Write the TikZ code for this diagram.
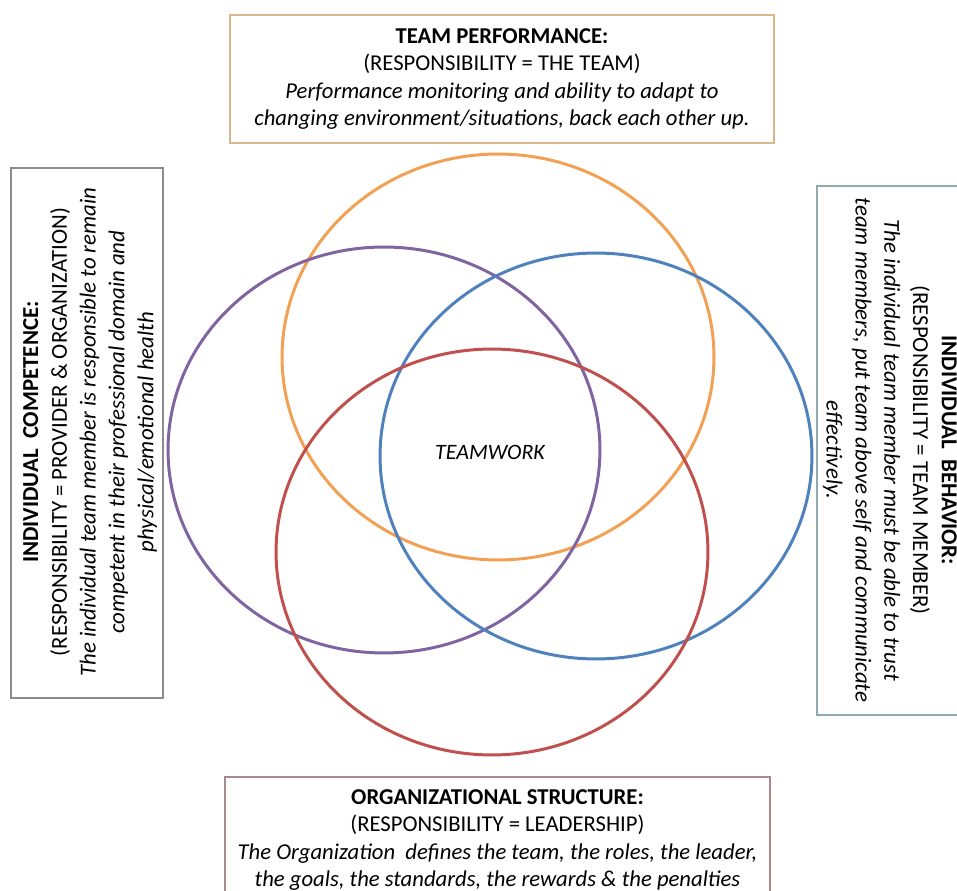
\documentclass[tikz,border=0pt]{standalone}
\usepackage{fontspec}
\setmainfont{Carlito}
\usetikzlibrary{shapes.geometric}

\definecolor{ringOrange}{HTML}{F2A154}
\definecolor{ringPurple}{HTML}{8064A2}
\definecolor{ringBlue}{HTML}{4F81BD}
\definecolor{ringRed}{HTML}{C0504D}
\definecolor{edgeTan}{HTML}{D9B68C}
\definecolor{edgeGray}{HTML}{8C8C8C}
\definecolor{edgeTeal}{HTML}{8FAAB0}
\definecolor{edgeRose}{HTML}{A88A8A}

\begin{document}
\begin{tikzpicture}
  [x=0.02cm,y=-0.02cm,
  ring/.style={ellipse,draw=#1,line width=1.7pt,inner sep=0pt,
    minimum width=8.64cm,minimum height=8.12cm},
  lab/.style={rectangle,draw=#1,line width=0.8pt,inner sep=0pt},
  txt/.style={align=center,inner sep=0pt,font=\fontsize{12.9}{15.4}\selectfont},
  stxt/.style={txt,font=\fontsize{13}{16.4}\selectfont}]

  \useasboundingbox (0,0) rectangle (957,891);

  % the four rings
  \node[ring=ringOrange] (perf) at (498,357) {};
  \node[ring=ringPurple] (comp) at (384,450) {};
  \node[ring=ringBlue] (behav) at (596,456) {};
  \node[ring=ringRed] (org) at (492,552) {};

  \node[txt,font=\fontsize{12.5}{14}\selectfont\itshape] (tw) at (490,452) {TEAMWORK};

  % boxes round the rings
  \node[lab=edgeTan,minimum width=10.88cm,minimum height=2.56cm] (perfbox) at (502,79) {};
  \node[txt] (perftxt) at (502,79)
  {\textbf{TEAM PERFORMANCE:}\\
   (RESPONSIBILITY = THE TEAM)\\
   \textit{Performance monitoring and ability to adapt to}\\
   \textit{changing environment/situations, back each other up.}};

  \node[lab=edgeGray,minimum width=3.04cm,minimum height=10.6cm] (compbox) at (87,433) {};
  \node[stxt,rotate=90] (comptxt) at (90,432)
  {\textbf{INDIVIDUAL\ \ COMPETENCE:}\\
   (RESPONSIBILITY = PROVIDER \& ORGANIZATION)\\
   \textit{The individual team member is responsible to remain}\\
   \textit{competent in their professional domain and}\\
   \textit{physical/emotional health}};

  \node[lab=edgeTeal,minimum width=3.6cm,minimum height=10.58cm] (behavbox) at (907,450.5) {};
  \node[stxt,rotate=-90] (behavtxt) at (890,450)
  {\textbf{INDIVIDUAL\ \ BEHAVIOR:}\\
   (RESPONSIBILITY = TEAM MEMBER)\\
   \textit{The individual team member must be able to trust}\\
   \textit{team members, put team above self and communicate}\\
   \textit{effectively.}};

  \node[lab=edgeRose,minimum width=10.9cm,minimum height=2.6cm] (orgbox) at (497.5,842) {};
  \node[txt] (orgtxt) at (497.5,840)
  {\textbf{ORGANIZATIONAL STRUCTURE:}\\
   (RESPONSIBILITY = LEADERSHIP)\\
   \textit{The Organization\ \ defines the team, the roles, the leader,}\\
   \textit{the goals, the standards, the rewards \& the penalties}};
\end{tikzpicture}
\end{document}
